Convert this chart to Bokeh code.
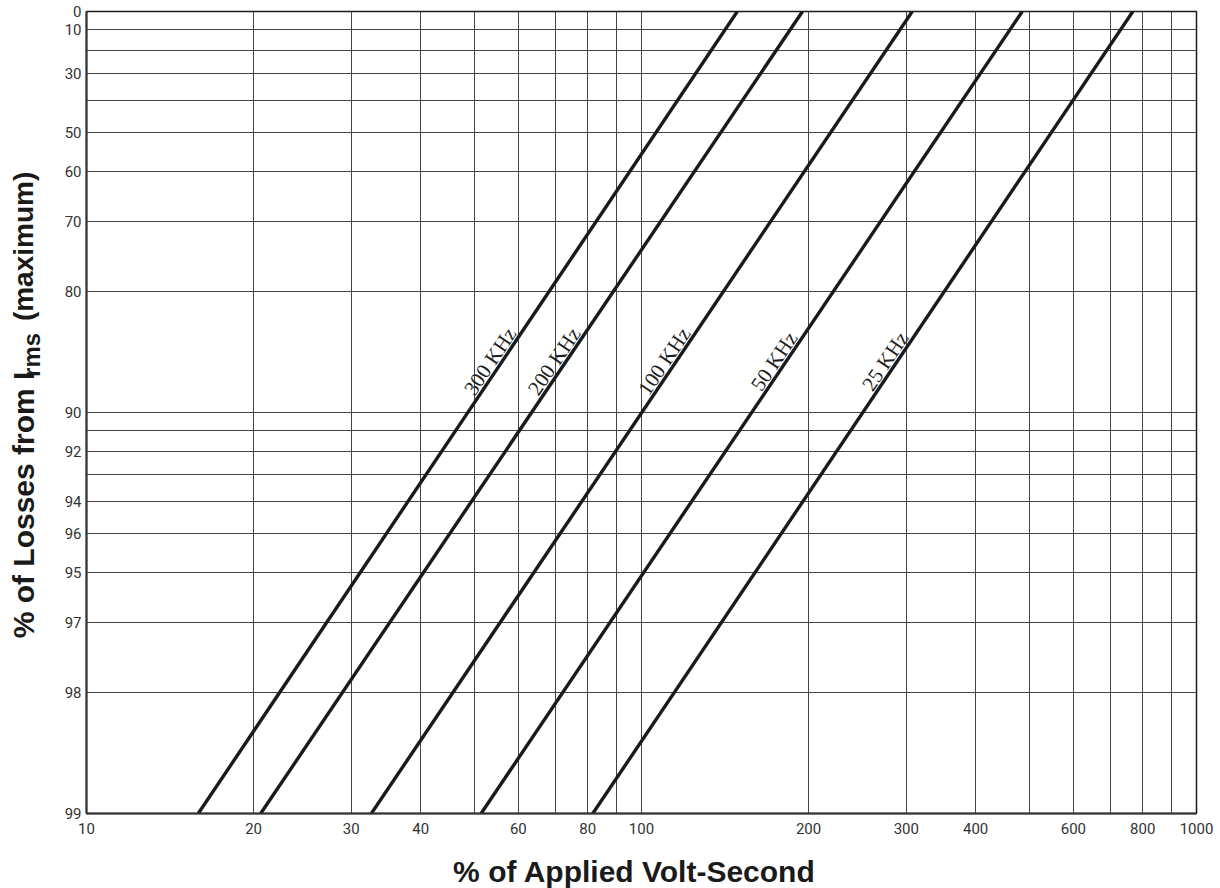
import numpy as np
from bokeh.plotting import figure
from bokeh.layouts import row, column
from bokeh.models import Range1d, FixedTicker, ColumnDataSource, BasicTickFormatter
from bokeh.embed import file_html
from bokeh.resources import INLINE
from bokeh.core.properties import value

# ---------------- data ----------------
freq_labels = ["300 KHz", "200 KHz", "100 KHz", "50 KHz", "25 KHz"]
# % of applied volt-second where each line meets the 99 % (bottom) and 0 % (top) loss levels
vs_at_99 = [15.9, 20.6, 32.6, 51.4, 81.7]
vs_at_0 = [148.8, 195.0, 307.5, 485.3, 767.8]
loss_ends = [99, 0]
label_loss = 87  # loss level where the frequency labels sit

x_ticks = [10, 20, 30, 40, 60, 80, 100, 200, 300, 400, 600, 800, 1000]
x_grid = [20, 30, 40, 50, 60, 70, 80, 90, 100, 200, 300, 400, 500, 600, 700, 800, 900]
y_grid_loss = [0, 10, 20, 30, 40, 50, 60, 70, 80, 90, 91, 92, 93, 94, 95, 96, 97, 98, 99]
y_tick_labels = ["0", "10", "", "30", "", "50", "60", "70", "80", "90",
                 "", "92", "", "94", "96", "95", "97", "98", "99"]

x_title = "% of Applied Volt-Second"
y_title_main, y_title_sub, y_title_tail = "% of Losses from I", "rms", "(maximum)"

# ---------------- layout sizes ----------------
TOTAL_W, TOTAL_H = 1220, 888
YL_W = 46                 # strip for the y title
ML, MR, MT, MB = 40, 24, 11, 37
FW, FH = 1110, 802
W = ML + FW + MR
H = MT + FH + MB
XL_H = TOTAL_H - H        # strip for the x title

p = figure(width=W, height=H, x_axis_type="log", y_axis_type="log",
           x_range=Range1d(10, 1000), y_range=Range1d(1, 100),
           output_backend="svg", toolbar_location=None, title=None,
           min_border_left=ML, min_border_right=MR, min_border_top=MT, min_border_bottom=MB)

p.outline_line_color = "#1a1a1a"
p.outline_line_width = 1.5

# grids
p.xgrid.ticker = FixedTicker(ticks=x_grid)
yv_grid = [100 - l for l in y_grid_loss]
p.ygrid.ticker = FixedTicker(ticks=[v for v in yv_grid if 1 < v < 100])
for g in (p.xgrid, p.ygrid):
    g.grid_line_color = "#444444"
    g.grid_line_width = 1
    g.grid_line_alpha = 1

# axes
p.xaxis.ticker = FixedTicker(ticks=x_ticks)
p.xaxis.formatter = BasicTickFormatter()
p.xaxis.major_label_overrides = {t: str(t) for t in x_ticks}
lab_v = [v for v, s in zip(yv_grid, y_tick_labels) if s]
p.yaxis.ticker = FixedTicker(ticks=lab_v)
p.yaxis.major_label_overrides = {v: s for v, s in zip(yv_grid, y_tick_labels) if s}
for ax in (p.xaxis, p.yaxis):
    ax.major_tick_line_color = None
    ax.minor_tick_line_color = None
    ax.major_tick_out = 0
    ax.major_tick_in = 0
    ax.minor_tick_out = 0
    ax.axis_line_color = "#333333"
    ax.axis_line_width = 2
    ax.major_label_text_font = "Roboto"
    ax.major_label_text_font_size = "15px"
    ax.major_label_text_color = "#333333"
p.xaxis.major_label_standoff = 9
p.yaxis.major_label_standoff = 5

# ---------------- lines ----------------
xs = [[a, b] for a, b in zip(vs_at_99, vs_at_0)]
ys = [[100 - l for l in loss_ends] for _ in freq_labels]
p.multi_line(xs=xs, ys=ys, line_color="#1a1a1a", line_width=3.4)

# ---------------- frequency labels along lines ----------------
t = np.log10(100 - label_loss) / 2.0
la, lb = np.log10(vs_at_99), np.log10(vs_at_0)
lx = 10 ** (la + t * (lb - la))
ly = [100 - label_loss] * len(freq_labels)
ang = np.arctan2(FH, (lb - la) * FW / 2.0)
d = 10.0
src = ColumnDataSource(dict(x=lx, y=ly, text=freq_labels, angle=ang,
                            xo=-np.sin(ang) * d, yo=-np.cos(ang) * d))
p.text(x="x", y="y", text="text", angle="angle", x_offset="xo", y_offset="yo", source=src,
       text_align="center", text_baseline="middle",
       text_font=value("Liberation Serif"), text_font_size="21px", text_color="#1e1e1e")


def strip(width, height):
    f = figure(width=width, height=height, x_range=Range1d(0, width), y_range=Range1d(0, height),
               output_backend="svg", toolbar_location=None, title=None,
               x_axis_location=None, y_axis_location=None, min_border=0)
    f.outline_line_color = None
    f.xgrid.visible = False
    f.ygrid.visible = False
    return f


# ---------------- y title strip (pixel coordinates of the strip, y from its bottom) ----------------
yl = strip(YL_W, H)
bold = dict(text_font=value("Liberation Sans"), text_font_style="bold", text_color="#1a1a1a",
            angle=np.pi / 2, text_align="center", text_baseline="middle")
yl.text(x=[23], y=[H - 523], text=[y_title_main], text_font_size="30px", **bold)
yl.text(x=[31], y=[H - 364], text=[y_title_sub], text_font_size="24px", **bold)
yl.text(x=[23], y=[H - 249], text=[y_title_tail], text_font_size="28px", **bold)

# ---------------- x title strip ----------------
xl = strip(TOTAL_W, XL_H)
xl.text(x=[634], y=[TOTAL_H - 871], text=[x_title], text_font=value("Liberation Sans"),
        text_font_style="bold", text_font_size="30px", text_color="#1a1a1a",
        text_align="center", text_baseline="middle")

layout = column(row(yl, p), xl)
open("out.html", "w").write(file_html(layout, INLINE))
